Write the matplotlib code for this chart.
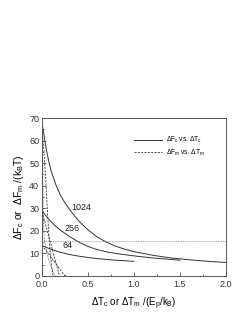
import matplotlib
matplotlib.use('Agg')
import matplotlib.pyplot as plt
from matplotlib.ticker import MultipleLocator, FormatStrFormatter

plt.rcParams['font.family'] = ['Liberation Sans', 'DejaVu Sans']
plt.rcParams['mathtext.fontset'] = 'custom'
plt.rcParams['mathtext.rm'] = 'Liberation Sans'
plt.rcParams['mathtext.it'] = 'Liberation Sans:italic'

# Delta F_c vs Delta T_c (solid), one curve per chain length
t_1024 = [0, 0.025, 0.05, 0.075, 0.1, 0.15, 0.2, 0.25, 0.3, 0.35, 0.4, 0.5, 0.6, 0.7, 0.8, 0.9,
          1.0, 1.2, 1.4, 1.6, 1.8, 2.0]
f_1024 = [68, 61.5, 55.5, 50.5, 46.5, 40.5, 35.8, 32.4, 29.5, 26.8, 24.4, 20.4, 17.3, 15.0, 13.2, 11.9,
          10.8, 9.2, 8.0, 7.2, 6.5, 6.0]
t_256 = [0, 0.05, 0.1, 0.15, 0.2, 0.3, 0.4, 0.5, 0.6, 0.7, 0.8, 1.0, 1.2, 1.5]
f_256 = [29, 26.3, 24, 22, 20.3, 17.5, 15.0, 13.1, 11.7, 10.7, 10.0, 8.9, 8.0, 7.0]
t_64 = [0, 0.05, 0.1, 0.2, 0.3, 0.4, 0.5, 0.6, 0.8, 1.0]
f_64 = [13.5, 12.6, 11.8, 10.5, 9.5, 8.8, 8.2, 7.7, 7.0, 6.5]

# Delta F_m vs Delta T_m (dashed)
tm_1024 = [0, 0.02, 0.04, 0.06, 0.08, 0.1, 0.12]
fm_1024 = [66, 56, 43, 28, 15, 6, 0]
tm_b = [0.005, 0.01, 0.015, 0.03, 0.06, 0.09, 0.12, 0.145]
fm_b = [62, 40, 22, 15, 9, 5, 2, 0]
tm_256 = [0, 0.05, 0.1, 0.15, 0.19]
fm_256 = [28.5, 21, 13.7, 6, 0]
tm_64 = [0, 0.05, 0.1, 0.15, 0.2, 0.25]
fm_64 = [13.5, 11, 8.2, 5.5, 2.7, 0]

horiz_level = 15.5
labels = ['1024', '256', '64']
label_pos = [(0.32, 30.5), (0.24, 21), (0.22, 13.5)]

fig = plt.figure(figsize=(2.53, 3.27), dpi=100)
ax = fig.add_axes([0.166, 0.156, 0.727, 0.483])

c = '#333333'
ax.plot(t_1024, f_1024, color=c, lw=0.7, label=r'$\Delta$F$_{\rm c}$ vs. $\Delta$T$_{\rm c}$')
ax.plot(t_256, f_256, color=c, lw=0.7)
ax.plot(t_64, f_64, color=c, lw=0.7)
ax.plot(tm_1024, fm_1024, color=c, lw=0.6, ls=(0, (2.5, 1.5)),
        label=r'$\Delta$F$_{\rm m}$ vs. $\Delta$T$_{\rm m}$')
ax.plot(tm_b, fm_b, color=c, lw=0.5, ls=(0, (1, 1.2)))
ax.plot(tm_256, fm_256, color=c, lw=0.6, ls=(0, (2.5, 1.5)))
ax.plot(tm_64, fm_64, color=c, lw=0.6, ls=(0, (2.5, 1.5)))
ax.plot([0, 2.0], [horiz_level, horiz_level], color='#555555', lw=0.5, ls=(0, (1, 1.5)))

for lab, (x, y) in zip(labels, label_pos):
    ax.text(x, y, lab, fontsize=6.5, color='#222222', va='center')

ax.set_xlim(0, 2.0)
ax.set_ylim(0, 70)
ax.xaxis.set_major_locator(MultipleLocator(0.5))
ax.xaxis.set_minor_locator(MultipleLocator(0.25))
ax.yaxis.set_major_locator(MultipleLocator(10))
ax.yaxis.set_minor_locator(MultipleLocator(5))
ax.xaxis.set_major_formatter(FormatStrFormatter('%.1f'))
ax.tick_params(which='both', direction='in', labelsize=6.5, colors='#333333', width=0.5)
ax.tick_params(axis='x', pad=3)
ax.tick_params(axis='y', pad=2)
ax.tick_params(which='major', length=3)
ax.tick_params(which='minor', length=1.5)
for s in ax.spines.values():
    s.set_linewidth(0.7)
    s.set_color('#555555')

ax.set_xlabel(r'$\Delta$T$_{\rm c}$ or $\Delta$T$_{\rm m}$ /(E$_{\rm p}$/k$_{\rm B}$)', fontsize=7, labelpad=5)
ax.set_ylabel(r'$\Delta$F$_{\rm c}$ or  $\Delta$F$_{\rm m}$ /(k$_{\rm B}$T)', fontsize=7.5, labelpad=2)

ax.legend(loc='upper right', bbox_to_anchor=(0.92, 0.93), frameon=False, fontsize=4.8,
          handlelength=4.3, handletextpad=0.6, labelspacing=0.35)

fig.savefig('out.png', dpi=100)
